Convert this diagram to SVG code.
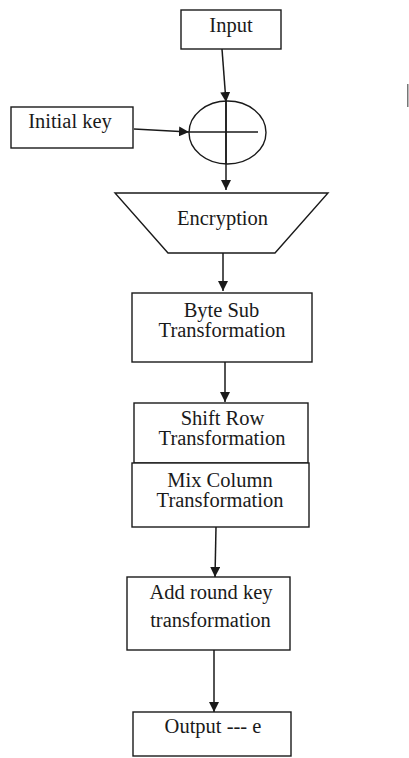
<svg xmlns="http://www.w3.org/2000/svg" width="409" height="758" viewBox="0 0 409 758">
<style>
.box{fill:#fff;stroke:#1a1a1a;stroke-width:1.4}
.ln{fill:none;stroke:#1a1a1a;stroke-width:1.5}
.t{font-family:"Liberation Serif","Times New Roman",serif;font-size:20.5px;fill:#1a1a1a;text-anchor:middle}
</style>
<defs>
<marker id="ah" viewBox="0 0 10 10" refX="10" refY="5" markerWidth="10" markerHeight="10" markerUnits="userSpaceOnUse" orient="auto">
<path d="M0,0 L10,5 L0,10 Z" fill="#1a1a1a"/>
</marker>
</defs>
<rect width="409" height="758" fill="#fff"/>
<g id="connectors">
<line class="ln" x1="222" y1="49" x2="226" y2="102" marker-end="url(#ah)"/>
<line class="ln" x1="134" y1="129" x2="189" y2="132" marker-end="url(#ah)"/>
<line class="ln" x1="226" y1="101" x2="226" y2="190" marker-end="url(#ah)"/>
<line class="ln" x1="223" y1="253" x2="223" y2="291" marker-end="url(#ah)"/>
<line class="ln" x1="225" y1="362" x2="225" y2="402" marker-end="url(#ah)"/>
<line class="ln" x1="216" y1="527" x2="215" y2="577" marker-end="url(#ah)"/>
<line class="ln" x1="214" y1="650" x2="214" y2="712" marker-end="url(#ah)"/>
</g>
<g id="input">
<rect class="box" x="181" y="10" width="100" height="39"/>
<text class="t" x="231" y="32">Input</text>
</g>
<g id="initial-key">
<rect class="box" x="11" y="107" width="122" height="41"/>
<text class="t" x="70" y="128">Initial key</text>
</g>
<g id="xor">
<ellipse cx="227.5" cy="132.5" rx="38.5" ry="31.5" fill="none" stroke="#1a1a1a" stroke-width="1.4"/>
<line class="ln" x1="189" y1="132" x2="258" y2="132"/>
<line class="ln" x1="226" y1="101" x2="226" y2="164"/>
</g>
<g id="encryption">
<polygon class="box" points="115,193 328,193 275,253 168,253"/>
<text class="t" x="222.5" y="225">Encryption</text>
</g>
<g id="byte-sub">
<rect class="box" x="132" y="293" width="180" height="69"/>
<text class="t" x="221.5" y="317">Byte Sub</text>
<text class="t" x="222" y="337">Transformation</text>
</g>
<g id="shift-row">
<rect class="box" x="134" y="403" width="174" height="60"/>
<text class="t" x="222.5" y="425">Shift Row</text>
<text class="t" x="222" y="445">Transformation</text>
</g>
<g id="mix-column">
<rect class="box" x="132" y="463" width="177" height="64"/>
<text class="t" x="220" y="487">Mix Column</text>
<text class="t" x="220" y="507">Transformation</text>
</g>
<g id="add-round-key">
<rect class="box" x="127" y="577" width="163" height="73"/>
<text class="t" x="211" y="599">Add round key</text>
<text class="t" x="210.5" y="627">transformation</text>
</g>
<g id="output">
<rect class="box" x="133" y="712" width="158" height="44"/>
<text class="t" x="213" y="733">Output --- e</text>
</g>
<rect x="407" y="84" width="1.5" height="23" fill="#777"/>
</svg>
